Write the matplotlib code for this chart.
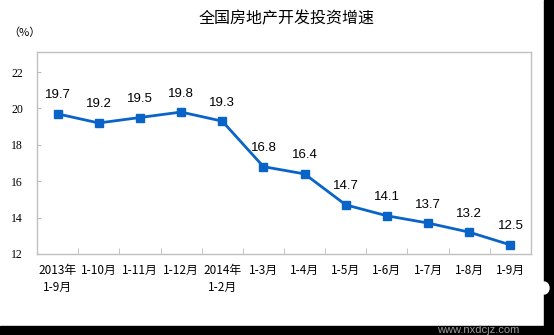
import matplotlib
matplotlib.use("Agg")
import matplotlib.pyplot as plt
from matplotlib.patches import Rectangle, Ellipse

plt.rcParams['font.family'] = ['Noto Sans CJK SC', 'DejaVu Sans']

periods = ["2013年\n1-9月", "1-10月", "1-11月", "1-12月", "2014年\n1-2月", "1-3月",
           "1-4月", "1-5月", "1-6月", "1-7月", "1-8月", "1-9月"]
growth = [19.7, 19.2, 19.5, 19.8, 19.3, 16.8, 16.4, 14.7, 14.1, 13.7, 13.2, 12.5]
yticks = [12, 14, 16, 18, 20, 22]

W, H = 554, 335
fig = plt.figure(figsize=(W / 100, H / 100), dpi=100)
fig.patch.set_facecolor("white")
ax = fig.add_axes([37 / W, 1 - 254 / H, (531 - 37) / W, (254 - 52) / H])

x = list(range(len(growth)))
ax.plot(x, growth, color="#0A64C8", lw=2, marker="s", ms=5.5, zorder=3)
for xi, v in zip(x, growth):
    ax.annotate(f"{v}", (xi, v), xytext=(0, 9), textcoords="offset points",
                ha="center", va="bottom", fontsize=9.5, family="Liberation Sans")

ax.set_xlim(-0.5, len(growth) - 0.5)
ax.set_ylim(12, 23.1)
ax.set_yticks(yticks)
ax.set_yticklabels([str(t) for t in yticks], fontsize=8.5, family="Liberation Serif")
ax.set_xticks(x)
ax.set_xticklabels(periods, fontsize=8.5, linespacing=1.4)
ax.set_xticks([i + 0.5 for i in x[:-1]], minor=True)
ax.tick_params(axis="x", which="major", length=0, pad=7)
ax.tick_params(axis="x", which="minor", direction="in", length=4, color="#BBBBBB")
ax.tick_params(axis="y", direction="in", length=3, color="#BBBBBB", pad=10)
for s in ax.spines.values():
    s.set_color("#C0C0C0")
    s.set_linewidth(1)

fig.text(287 / W, 1 - 19 / H, "全国房地产开发投资增速", ha="center", va="center", fontsize=11.5)
fig.text(8 / W, 1 - 33 / H, "（%）", ha="left", va="center", fontsize=8)

# dark frame strips on the right and bottom edges
fig.patches.append(Rectangle((544 / W, 0), 10 / W, 1, transform=fig.transFigure,
                             color="black", zorder=0))
fig.patches.append(Rectangle((0, 0), 1, 9.5 / H, transform=fig.transFigure,
                             color="black", zorder=0))
fig.patches.append(Ellipse((544 / W, 1 - 288 / H), 10 / W, 12 / H,
                           transform=fig.transFigure, color="white", zorder=1))
fig.text(478 / W, 1 - 330 / H, "www.nxdcjz.com", ha="center", va="center",
         fontsize=8, color="#9A9A9A", family="Liberation Sans")

fig.savefig("out.png", dpi=100)
